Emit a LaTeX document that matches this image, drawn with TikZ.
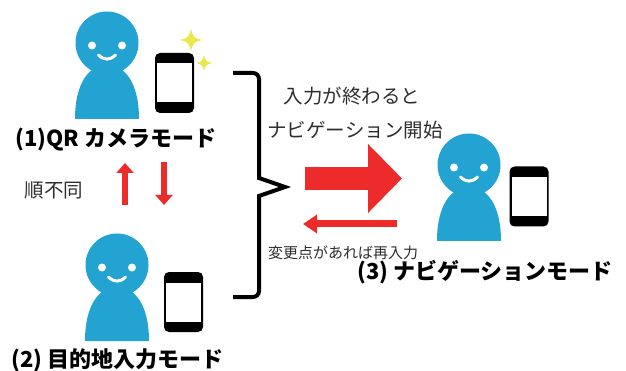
\documentclass[tikz,border=0pt]{standalone}
\usepackage{fontspec}
\setmainfont{Noto Sans CJK JP}
\usepackage{xcolor}
\usetikzlibrary{arrows.meta,positioning}

\definecolor{skin}{RGB}{34,163,209}
\definecolor{alert}{RGB}{238,43,43}
\definecolor{spark}{RGB}{236,230,78}
\definecolor{note}{RGB}{45,45,45}

\tikzset{
  person/.pic={
    \fill[skin] (-32,76) .. controls (-32,40) and (-18,22) .. (0,22) .. controls (18,22) and (32,40) .. (32,76) -- cycle;
    \fill[skin] (0,0) circle (31.5);
    \fill[white] (-15,2.5) circle (4) (15,2.5) circle (4);
    \draw[white, line width=3pt, line cap=round] (-8.5,12) .. controls (-3,17.5) and (3,17.5) .. (8.5,12);
  },
  phone/.pic={
    \fill[black, rounded corners=5pt] (-19.5,-30) rectangle (19.5,30);
    \fill[white] (-17.5,-19.5) rectangle (17.5,19.5);
  },
  sparkle/.pic={
    \fill[spark] (0,-1) .. controls (0.22,-0.22) .. (1,0) .. controls (0.22,0.22) .. (0,1)
      .. controls (-0.22,0.22) .. (-1,0) .. controls (-0.22,-0.22) .. (0,-1) -- cycle;
  }
}

\begin{document}
\begin{tikzpicture}[
  x=1pt, y=-1pt,
  mode/.style={inner sep=0pt, font=\fontsize{22}{26}\selectfont\bfseries},
  memo/.style={inner sep=0pt, text=note, font=\fontsize{19.5}{24}\selectfont},
  small/.style={inner sep=0pt, text=note, font=\fontsize{15}{18}\selectfont},
  swap/.style={alert, line width=6pt, -{Triangle[length=10pt,width=17pt]}},
  go/.style={alert, line width=23pt, -{Triangle[length=34pt,width=67pt]}},
  back/.style={alert, line width=7pt, -{Triangle[length=14pt,width=18pt]}},
  brace/.style={line width=4pt, miter limit=20}
]
\useasboundingbox (0,0) rectangle (626,371);

\coordinate (p1) at (107,43);
\coordinate (p2) at (117,265);
\coordinate (p3) at (469,165);
\foreach \p in {p1,p2,p3} \pic at (\p) {person};

\pic at (174.5,83) {phone};
\pic at (183.5,302) {phone};
\pic at (529,196.5) {phone};

\pic[scale=11] at (191,40) {sparkle};
\pic[scale=8] at (204,63) {sparkle};

\node[mode] (cam) at (116,140) {(1)QR カメラモード};
\node[mode] (dest) at (117.5,360) {(2) 目的地入力モード};
\node[mode] (nav) at (485,272) {(3) ナビゲーションモード};

\node[memo] (order) at (54,190) {順不同};
\node[memo] (done) at (352,96) {入力が終わると};
\node[memo] (start) at (355,130) {ナビゲーション開始};
\node[small] (redo) at (343,253) {変更点があれば再入力};

\coordinate (upa) at (125,205);
\coordinate (upb) at (125,163);
\coordinate (dna) at (164,162);
\coordinate (dnb) at (164,205);
\draw[swap] (upa) -- (upb);
\draw[swap] (dna) -- (dnb);

\draw[brace] (233,73) [rounded corners=6pt] -- (259,73) -- (259,150) [sharp corners] -- (259,178)
  -- (285,187) -- (259,196) -- (259,230) [rounded corners=6pt] -- (259,297) -- (233,297);

\coordinate (goa) at (305,178.5);
\coordinate (gob) at (402,178.5);
\draw[go] (goa) -- (gob);

\coordinate (bka) at (397,224);
\coordinate (bkb) at (303,224);
\draw[back] (bka) -- (bkb);
\end{tikzpicture}
\end{document}
